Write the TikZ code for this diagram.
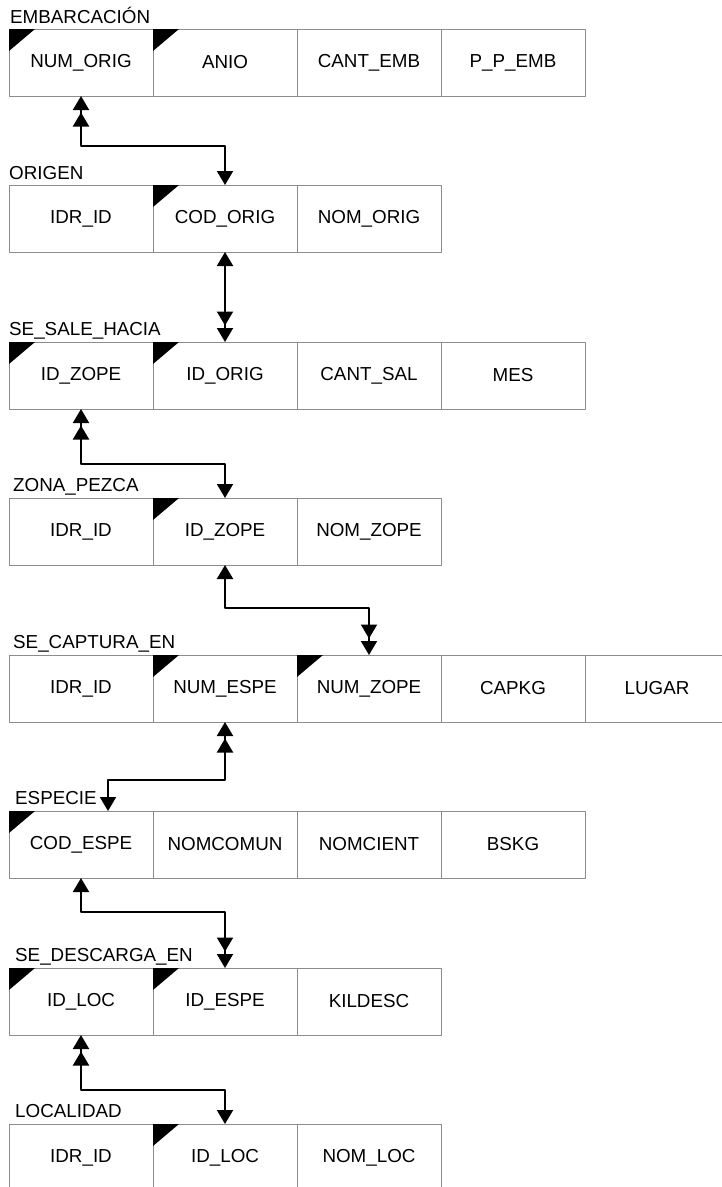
\documentclass[tikz,border=0pt]{standalone}
\usepackage{fontspec}
\setmainfont{Liberation Sans}
\usetikzlibrary{arrows.meta}
\definecolor{cellgray}{HTML}{8C8C8C}
\tikzset{
  tri/.tip={Triangle[width=16pt,length=14pt]},
  ttri/.tip={Triangle[width=16pt,length=14pt,sep=2.5pt]Triangle[width=16pt,length=14pt]},
}
\begin{document}
\begin{tikzpicture}[x=1pt, y=-1pt, font=\fontsize{18.8}{22}\selectfont, line join=round,
    cell/.style={draw=cellgray, line width=0.9pt, minimum width=144pt, minimum height=67pt, inner sep=0pt, outer sep=0pt},
    tname/.style={anchor=base west, inner sep=0pt},
    link/.style={line width=2pt}]
    \useasboundingbox (0,0) rectangle (721,1187);
    % EMBARCACION
    \node[tname] (embT) at (10,23) {EMBARCACIÓN};
    \node[cell] (emb1) at (81,62.5) {NUM\_ORIG};
    \node[cell] (emb2) at (225,62.5) {ANIO};
    \node[cell] (emb3) at (369,62.5) {CANT\_EMB};
    \node[cell] (emb4) at (513,62.5) {P\_P\_EMB};
    % ORIGEN
    \node[tname] (oriT) at (9,179) {ORIGEN};
    \node[cell] (ori1) at (81,218.5) {IDR\_ID};
    \node[cell] (ori2) at (225,218.5) {COD\_ORIG};
    \node[cell] (ori3) at (369,218.5) {NOM\_ORIG};
    % SE_SALE_HACIA
    \node[tname] (salT) at (9,335) {SE\_SALE\_HACIA};
    \node[cell] (sal1) at (81,375.5) {ID\_ZOPE};
    \node[cell] (sal2) at (225,375.5) {ID\_ORIG};
    \node[cell] (sal3) at (369,375.5) {CANT\_SAL};
    \node[cell] (sal4) at (513,375.5) {MES};
    % ZONA_PEZCA
    \node[tname] (zonT) at (13,491) {ZONA\_PEZCA};
    \node[cell] (zon1) at (81,531.5) {IDR\_ID};
    \node[cell] (zon2) at (225,531.5) {ID\_ZOPE};
    \node[cell] (zon3) at (369,531.5) {NOM\_ZOPE};
    % SE_CAPTURA_EN
    \node[tname] (capT) at (13,648) {SE\_CAPTURA\_EN};
    \node[cell] (cap1) at (81,688.5) {IDR\_ID};
    \node[cell] (cap2) at (225,688.5) {NUM\_ESPE};
    \node[cell] (cap3) at (369,688.5) {NUM\_ZOPE};
    \node[cell] (cap4) at (513,688.5) {CAPKG};
    \node[cell] (cap5) at (657,688.5) {LUGAR};
    % ESPECIE
    \node[tname] (espT) at (15,804) {ESPECIE};
    \node[cell] (esp1) at (81,844.5) {COD\_ESPE};
    \node[cell] (esp2) at (225,844.5) {NOMCOMUN};
    \node[cell] (esp3) at (369,844.5) {NOMCIENT};
    \node[cell] (esp4) at (513,844.5) {BSKG};
    % SE_DESCARGA_EN
    \node[tname] (desT) at (15,961) {SE\_DESCARGA\_EN};
    \node[cell] (des1) at (81,1001.5) {ID\_LOC};
    \node[cell] (des2) at (225,1001.5) {ID\_ESPE};
    \node[cell] (des3) at (369,1001.5) {KILDESC};
    % LOCALIDAD
    \node[tname] (locT) at (15,1117) {LOCALIDAD};
    \node[cell] (loc1) at (81,1157.5) {IDR\_ID};
    \node[cell] (loc2) at (225,1157.5) {ID\_LOC};
    \node[cell] (loc3) at (369,1157.5) {NOM\_LOC};
    % key marks
    \foreach \k in {emb1,emb2,ori2,sal1,sal2,zon2,cap2,cap3,esp1,des1,des2,loc2}
        \fill (\k.north west) -- ++(26,0) -- ++(-26,22) -- cycle;
    % links
    \draw[link, {ttri}-{tri}] (emb1.south) -- ++(0,50) -| (ori2.north);
    \draw[link, {tri}-{ttri}] (ori2.south) -- (sal2.north);
    \draw[link, {ttri}-{tri}] (sal1.south) -- ++(0,55) -| (zon2.north);
    \draw[link, {tri}-{ttri}] (zon2.south) -- ++(0,43) -| (cap3.north);
    \draw[link, {ttri}-{tri}] (cap2.south) -- ++(0,58) -| ([xshift=27pt]esp1.north);
    \draw[link, {tri}-{ttri}] (esp1.south) -- ++(0,34) -| (des2.north);
    \draw[link, {ttri}-{tri}] (des1.south) -- ++(0,55) -| (loc2.north);
\end{tikzpicture}
\end{document}
